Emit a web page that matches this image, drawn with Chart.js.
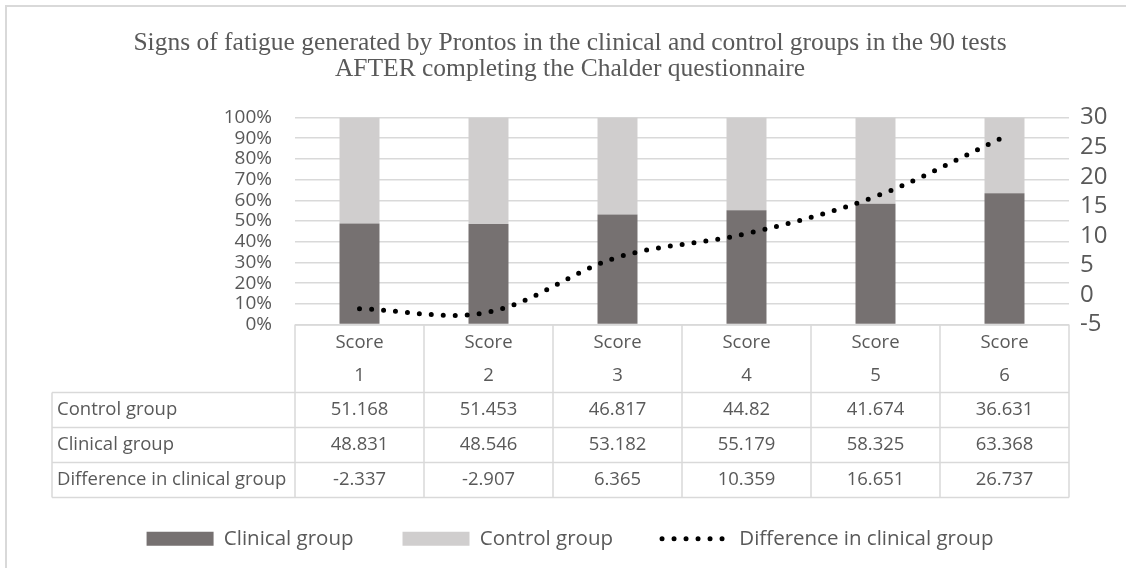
<!DOCTYPE html>
<html lang="en">
<head>
    <meta charset="UTF-8">
    <title>Signs of fatigue - Prontos</title>
    <script src="https://cdn.jsdelivr.net/npm/chart.js"></script>
    <style>
        body { margin: 0; background: #fff; }
        #wrap { width: 1126px; height: 568px; position: relative; }
    </style>
</head>
<body>
    <div id="wrap"><canvas id="fatigueChart"></canvas></div>

    <script>
        const categories = [['Score', '1'], ['Score', '2'], ['Score', '3'], ['Score', '4'], ['Score', '5'], ['Score', '6']];
        const controlGroup = [51.168, 51.453, 46.817, 44.82, 41.674, 36.631];
        const clinicalGroup = [48.831, 48.546, 53.182, 55.179, 58.325, 63.368];
        const difference = [-2.337, -2.907, 6.365, 10.359, 16.651, 26.737];
        const titleLines = ['Signs of fatigue generated by Prontos in the clinical and control groups in the 90 tests', 'AFTER completing the Chalder questionnaire'];

        const textGrey = '#595959';
        const lineGrey = '#D9D9D9';
        const sansFont = '"Open Sans", sans-serif';

        // data table under the plot, placed from the x scale
        const tablePlugin = {
            id: 'dataTable',
            beforeDraw(chart) {
                const ctx = chart.ctx;
                ctx.save();
                ctx.fillStyle = '#fff';
                ctx.fillRect(0, 0, chart.width, chart.height);
                ctx.strokeStyle = lineGrey;
                ctx.lineWidth = 2;
                ctx.beginPath();
                ctx.moveTo(6, chart.height);
                ctx.lineTo(6, 6);
                ctx.lineTo(chart.width, 6);
                ctx.stroke();
                ctx.restore();
            },
            afterDraw(chart) {
                const ctx = chart.ctx;
                const x = chart.scales.x;
                const top = chart.chartArea.bottom;
                const n = categories.length;
                const colW = (x.right - x.left) / n;
                const labelLeft = 52;
                const headerH = 68;
                const rowH = 35;
                const rows = [
                    ['Control group', controlGroup],
                    ['Clinical group', clinicalGroup],
                    ['Difference in clinical group', difference]
                ];
                const bottom = top + headerH + rowH * rows.length;

                ctx.save();
                ctx.strokeStyle = lineGrey;
                ctx.lineWidth = 1.5;
                ctx.beginPath();
                // header top
                ctx.moveTo(x.left, top + 0.5);
                ctx.lineTo(x.right, top + 0.5);
                // row lines
                for (let r = 0; r <= rows.length; r++) {
                    const yy = top + headerH + r * rowH;
                    ctx.moveTo(labelLeft, yy);
                    ctx.lineTo(x.right, yy);
                }
                // verticals
                ctx.moveTo(labelLeft, top + headerH);
                ctx.lineTo(labelLeft, bottom);
                for (let i = 0; i <= n; i++) {
                    const xx = x.left + i * colW;
                    ctx.moveTo(xx, top);
                    ctx.lineTo(xx, bottom);
                }
                ctx.stroke();

                ctx.fillStyle = textGrey;
                ctx.font = '18.5px ' + sansFont;
                ctx.textBaseline = 'middle';
                ctx.textAlign = 'center';
                categories.forEach((lab, i) => {
                    const cx = x.getPixelForValue(i);
                    ctx.fillText(lab[0], cx, top + 18);
                    ctx.fillText(lab[1], cx, top + 51);
                });
                rows.forEach((row, r) => {
                    const cy = top + headerH + r * rowH + rowH / 2;
                    ctx.textAlign = 'left';
                    ctx.fillText(row[0], labelLeft + 5, cy);
                    ctx.textAlign = 'center';
                    row[1].forEach((v, i) => {
                        ctx.fillText(String(v), x.getPixelForValue(i), cy);
                    });
                });
                ctx.restore();
            }
        };

        const ctx = document.getElementById('fatigueChart').getContext('2d');
        new Chart(ctx, {
            type: 'bar',
            data: {
                labels: categories,
                datasets: [
                    {
                        label: 'Clinical group',
                        data: clinicalGroup,
                        backgroundColor: '#767171',
                        barPercentage: 0.31,
                        categoryPercentage: 1,
                        order: 1
                    },
                    {
                        label: 'Control group',
                        data: controlGroup,
                        backgroundColor: '#D0CECE',
                        barPercentage: 0.31,
                        categoryPercentage: 1,
                        order: 1
                    },
                    {
                        type: 'line',
                        label: 'Difference in clinical group',
                        data: difference,
                        yAxisID: 'y1',
                        borderColor: '#000',
                        borderWidth: 5,
                        borderDash: [0, 12],
                        borderCapStyle: 'round',
                        tension: 0.35,
                        pointRadius: 0,
                        fill: false,
                        order: 0
                    }
                ]
            },
            options: {
                responsive: true,
                maintainAspectRatio: false,
                animation: false,
                layout: { padding: { top: 0, left: 14, right: 0, bottom: 9 } },
                plugins: {
                    tooltip: { enabled: false },
                    title: {
                        display: true,
                        text: titleLines,
                        color: textGrey,
                        font: { family: '"Liberation Serif", serif', size: 25.5, weight: 'normal', lineHeight: 1.02 },
                        padding: { top: 30, bottom: 35.5 }
                    },
                    legend: {
                        position: 'bottom',
                        labels: {
                            color: textGrey,
                            font: { family: sansFont, size: 20.5 },
                            usePointStyle: true,
                            pointStyleWidth: 67,
                            boxHeight: 14,
                            padding: 49,
                            generateLabels(chart) {
                                return chart.data.datasets.map((ds, i) => {
                                    const isLine = ds.type === 'line';
                                    return {
                                        text: ds.label,
                                        datasetIndex: i,
                                        fillStyle: isLine ? 'rgba(0,0,0,0)' : ds.backgroundColor,
                                        strokeStyle: isLine ? '#000' : 'rgba(0,0,0,0)',
                                        lineWidth: isLine ? 5 : 0,
                                        lineDash: isLine ? [0, 12] : [],
                                        lineCap: isLine ? 'round' : 'butt',
                                        pointStyle: isLine ? 'line' : 'rect',
                                        fontColor: textGrey
                                    };
                                });
                            }
                        }
                    }
                },
                scales: {
                    x: {
                        stacked: true,
                        grid: { display: false },
                        border: { display: false },
                        ticks: { display: false },
                        afterFit(scale) { scale.height = 155; }
                    },
                    y: {
                        stacked: true,
                        position: 'left',
                        min: 0,
                        max: 100,
                        ticks: {
                            stepSize: 10,
                            autoSkip: false,
                            padding: 23,
                            color: textGrey,
                            font: { family: sansFont, size: 19 },
                            callback: v => v + '%'
                        },
                        grid: { color: lineGrey, lineWidth: 1.5, drawTicks: false },
                        border: { display: false },
                        afterFit(scale) { scale.width = 281; }
                    },
                    y1: {
                        position: 'right',
                        min: -5,
                        max: 30,
                        ticks: {
                            stepSize: 5,
                            autoSkip: false,
                            padding: 11,
                            color: textGrey,
                            font: { family: sansFont, size: 24 }
                        },
                        grid: { display: false, drawTicks: false },
                        border: { display: false },
                        afterFit(scale) { scale.width = 57; }
                    }
                }
            },
            plugins: [tablePlugin]
        });
    </script>
</body>
</html>
